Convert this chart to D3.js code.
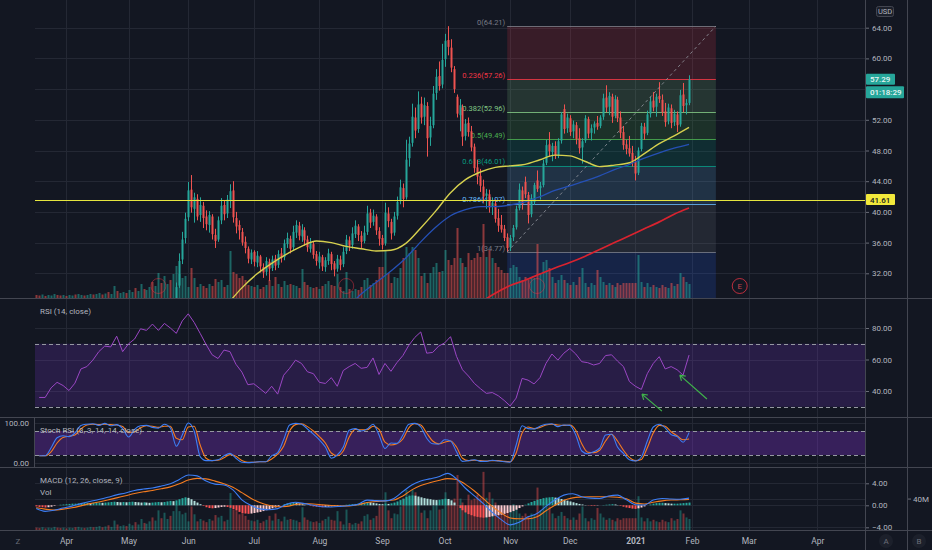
<!DOCTYPE html>
<html>
<head>
<meta charset="utf-8">
<title>Daily chart</title>
<script src="https://cdn.jsdelivr.net/npm/d3@7/dist/d3.min.js"></script>
<style>
  html, body { margin: 0; padding: 0; background: #131722; overflow: hidden; }
  svg { display: block; }
</style>
</head>
<body>
<svg id="chart" width="932" height="550"></svg>
<script>
// ---------- data (one bar per trading day, 18 Mar 2020 .. 29 Jan 2021) ----------
const opens = [
  12.8,12.6,12.2,13.0,12.7,13.6,14.2,14.7,14.3,13.9, 14.5,14.1,14.8,15.3,15.1,16.0,16.4,16.2,17.1,17.6,
  17.4,18.1,18.5,18.3,19.2,18.9,19.8,20.4,20.1,21.0, 21.5,21.2,22.1,22.6,22.3,23.5,24.0,23.6,24.7,25.2,
  24.8,25.7,26.3,26.0,27.2,27.9,27.4,
  27.9,30.4,33.8,36.6,39.3,42.9,40.4,41.7,39.6,40.8, 39.4,38.3,39.4,37.0,36.4,38.9,40.9,39.8,41.4,42.8,
  39.2,38.3,37.4,36.1,35.2,33.8,34.8,33.4,34.2,32.8, 32.2,33.5,32.7,33.9,33.1,34.6,34.1,35.8,36.5,35.4,
  37.3,38.2,36.8,37.6,36.4,35.2,35.8,34.5,33.4,34.1, 32.8,33.6,34.5,33.3,32.6,33.8,33.2,34.9,36.3,35.7,
  37.1,38.1,36.9,36.2,37.4,39.9,38.7,39.4,37.5,36.6, 35.9,39.8,38.7,37.3,39.5,41.4,43.1,41.9,47.0,49.0,
  52.3,50.8,54.1,52.4,53.8,49.7,51.3,55.5,57.7,56.6, 59.9,62.4,61.4,58.6,55.0,52.6,53.6,49.9,51.6,50.5,
  48.5,45.8,44.7,43.3,42.1,42.3,40.7,41.1,39.2,38.3, 37.8,36.7,35.4,36.7,38.0,40.5,42.8,43.9,42.2,39.7,
  41.3,44.1,43.1,43.5,46.4,48.8,47.8,48.6,47.4,49.3, 53.4,50.9,52.2,50.5,51.3,49.6,48.4,49.3,52.1,50.3,
  51.0,51.6,51.2,52.4,54.9,53.7,55.0,52.5,54.6,52.3, 50.4,48.8,48.3,47.7,46.5,45.1,48.2,51.1,50.3,52.8,
  54.5,53.7,55.1,54.6,53.1,51.8,53.5,51.7,52.7,51.4, 55.3,53.9,54.2
];
const highs = [
  13.2,12.9,13.4,13.3,13.8,14.4,15.2,14.9,14.6,14.9, 14.8,14.9,15.7,15.6,16.2,16.8,16.7,17.3,18.0,17.9,
  18.3,18.9,18.8,19.6,19.5,20.0,20.8,20.7,21.2,21.9, 21.8,22.3,23.0,22.9,23.7,24.4,24.3,24.9,25.6,25.5,
  25.9,26.7,26.6,27.4,28.3,28.2,28.6,
  30.8,34.6,37.4,39.9,43.9,44.8,42.5,42.3,41.9,41.3, 40.2,40.1,39.7,37.8,39.4,41.8,41.5,42.2,43.6,44.0,
  40.0,38.9,37.9,36.8,35.5,35.1,35.0,34.9,34.4,33.3, 34.1,33.9,34.3,34.4,35.0,35.3,36.4,37.3,36.9,38.2,
  38.9,38.7,38.4,38.0,36.9,36.6,36.1,34.9,34.8,34.4, 34.1,35.2,34.8,33.6,34.4,34.3,35.4,37.0,36.8,38.0,
  38.9,38.4,37.5,38.2,40.8,40.4,40.3,39.7,38.0,37.0, 41.2,40.6,39.1,40.0,42.0,44.2,43.7,49.4,49.8,54.1,
  53.6,55.7,55.0,54.9,54.3,52.4,56.4,58.6,59.6,61.9, 63.2,64.2,62.5,59.0,55.3,54.7,54.0,52.1,52.3,51.2,
  48.9,46.8,45.6,44.2,43.0,42.9,41.9,41.6,40.4,39.6, 38.3,37.2,37.0,38.3,40.8,43.7,43.3,44.6,42.6,42.3,
  43.8,45.4,43.9,46.8,49.4,50.4,49.0,49.2,49.6,53.0, 54.0,52.8,52.6,51.9,51.7,50.9,49.6,52.6,52.4,51.4,
  51.8,52.5,52.6,55.4,56.5,55.6,55.4,55.2,55.0,53.1, 51.2,49.4,49.9,48.6,47.3,48.4,51.6,51.6,53.2,55.0,
  55.6,55.4,56.9,55.3,54.2,54.1,54.0,53.3,53.1,55.9, 56.8,54.7,57.8
];
const lows = [
  12.1,11.8,12.0,12.3,12.5,13.3,14.0,14.0,13.6,13.7, 13.8,13.9,14.6,14.8,14.9,15.8,15.9,16.0,16.9,17.1,
  17.2,17.9,18.0,18.1,18.6,18.7,19.6,19.8,19.9,20.8, 20.9,21.0,21.9,22.0,22.1,23.2,23.3,23.4,24.5,24.5,
  24.6,25.5,25.7,25.8,26.9,27.1,27.2,
  27.6,30.1,33.2,35.9,38.8,39.9,38.6,38.9,38.7,37.9, 37.6,37.3,36.4,35.3,36.1,38.4,38.9,39.2,40.5,38.6,
  37.2,36.4,35.6,34.6,33.3,33.2,32.9,32.8,32.1,31.4, 31.7,31.0,32.3,32.4,32.7,33.4,33.7,35.3,34.6,35.0,
  36.6,36.3,36.1,35.6,34.8,34.7,33.9,33.0,32.6,32.3, 32.2,33.1,32.4,31.6,32.2,32.4,32.8,34.5,34.9,35.2,
  36.6,36.2,35.3,35.9,37.0,37.9,38.2,37.0,35.6,35.1, 35.6,38.0,36.4,36.9,39.0,41.0,40.6,41.6,45.9,48.5,
  49.6,50.3,51.5,51.3,47.2,48.6,50.9,54.6,55.8,56.1, 58.9,60.4,58.2,55.5,52.3,50.5,48.6,49.3,49.8,47.9,
  45.1,43.6,42.6,41.2,40.4,39.9,39.6,38.6,37.4,37.3, 36.2,34.8,34.9,36.2,37.7,40.2,40.3,41.8,38.5,39.3,
  40.9,42.6,41.6,43.2,46.1,47.2,46.6,46.9,47.0,48.9, 50.2,50.3,49.9,49.6,48.8,47.6,46.3,49.0,49.6,49.3,
  50.2,50.7,50.9,52.0,53.0,52.6,51.6,52.2,51.7,49.6, 48.1,47.5,47.2,45.9,44.1,44.8,47.9,49.4,50.0,52.3,
  53.1,52.4,54.2,52.5,51.1,51.4,50.9,51.2,50.4,51.1, 53.0,52.7,53.9
];
const closes = [
  12.5,12.1,13.0,12.6,13.5,14.1,14.8,14.2,13.9,14.6, 14.0,14.7,15.4,15.0,15.9,16.5,16.1,17.0,17.7,17.3,
  18.0,18.6,18.2,19.3,18.8,19.7,20.5,20.0,20.9,21.6, 21.1,22.0,22.7,22.2,23.4,24.1,23.5,24.6,25.3,24.7,
  25.6,26.4,25.9,27.1,28.0,27.3,28.2,
  30.2,33.6,36.4,39.1,42.8,40.6,41.9,39.4,40.9,39.2, 38.4,39.6,37.1,36.2,38.9,40.8,39.7,41.6,42.7,39.3,
  38.1,37.6,36.0,35.3,33.9,34.7,33.5,34.3,32.9,32.1, 33.6,32.6,33.8,33.0,34.5,34.0,35.9,36.6,35.2,37.4,
  38.3,36.9,37.7,36.3,35.4,35.9,34.4,33.6,34.2,32.9, 33.7,34.6,33.2,32.5,33.9,33.1,34.8,36.4,35.6,37.2,
  38.2,37.0,36.1,37.3,39.8,38.6,39.5,37.6,36.5,35.7, 39.9,38.8,37.2,39.4,41.3,43.2,41.7,46.8,48.9,52.4,
  50.6,54.0,52.3,53.9,49.6,51.2,55.4,57.6,56.4,59.8, 62.3,61.5,58.8,56.0,52.8,53.9,49.8,51.5,50.4,48.4,
  45.7,44.6,43.4,42.0,42.4,40.6,41.2,39.1,38.2,37.7, 36.6,35.3,36.6,37.9,40.4,42.9,41.0,42.3,39.6,41.8,
  43.5,43.0,43.4,46.3,48.7,47.9,48.6,47.3,49.2,52.7, 50.8,52.3,50.4,51.4,49.5,48.3,49.2,52.2,50.2,50.9,
  51.5,51.1,52.3,54.8,53.6,55.1,52.4,54.7,52.2,50.3, 48.7,48.2,47.6,46.6,45.0,48.0,51.2,50.2,52.7,54.4,
  53.6,55.0,54.7,53.0,51.7,53.6,51.6,52.8,51.3,55.2, 53.8,54.2,57.29
];
// volume, millions
const volumes = [
  3,2.5,3.5,2,3,2.5,4,3,2.5,3, 2,3,2.5,3.5,4,3,2.5,3,4,3.5, 4,5,3.5,4.5,6,4,12,7,5,6,
  5,8,6,10,7,14,9,8,11,16, 12,25,15,22,14,18,24,32,24,20, 22,11,30,20,11,14,12,10,14,12,
  19,16,18,11,13,47,26,24,20,22, 18,13,12,11,13,9,11,13,18,12, 21,14,11,17,13,14,13,12,10,29,
  16,13,11,10,11,9,12,14,17,13, 12,24,11,7,26,9,7,9,8,11, 18,20,13,15,18,31,31,48,25,15,
  21,20,30,40,51,45,51,48,40,22, 25,15,25,31,35,26,27,48,38,33, 40,70,40,35,31,45,38,40,45,41,
  74,41,48,40,35,31,28,25,25,30, 33,31,21,18,21,18,21,20,54,25, 36,38,30,21,15,18,23,18,15,13,
  16,13,21,30,15,11,15,13,28,21, 16,13,15,13,11,15,13,15,15,15, 15,15,43,16,11,15,11,13,11,10,
  13,11,10,15,12,14,25,21,16,14
];

// moving averages, one reading every 5 bars
const smaStep = 5;
const sma50Start = 64;
const sma50 = [27.9,30.1,31.9,33.3,34.5,35.5,36.2,36.0,35.5,35.2, 34.9,35.0,35.9,37.9,40.1,42.5,44.2,45.2,45.8,46.0,
  46.2,46.8,47.4,47.3,46.6,45.9,46.1,46.4,47.6,48.9, 49.9,51.0];
const sma100Start = 104;
const sma100 = [27.3,29.3,30.8,32.3,34.0,36.1,38.0,39.5,40.3,40.7, 40.7,40.9,41.3,42.0,42.8,43.4,44.0,44.7,45.5,46.2,
  47.0,47.7,48.3,48.8];
const sma200Start = 149;
const sma200 = [28.2,29.4,30.4,31.1,31.9,32.7,33.4,34.2,35.1,36.0, 36.9,37.8,38.7,39.7,40.5];

// RSI (14), one reading every 2 bars from bar 1
const oscStart = 1, oscStep = 2;
const rsiValues = [
  35.9,35.9,42.0,45.5,43.5,40.3,45.0,54.0,55.5,59.6, 65.0,68.5,68.0,74.8,65.0,70.0,73.0,79.5,78.5,82.5,
  78.5,82.9,80.0,76.6,84.5,89.0,83.5,76.6,69.5,63.0, 60.6,66.0,65.0,57.0,52.0,44.0,44.6,41.6,38.5,43.0,
  38.0,50.0,54.4,59.6,57.5,52.2,51.0,45.5,44.8,48.5, 43.0,53.0,55.5,57.5,54.4,55.0,61.0,50.5,57.5,52.5,
  58.0,62.5,69.0,74.0,77.5,64.0,64.5,68.5,70.5,74.5, 62.0,53.5,49.5,44.8,41.5,38.5,39.0,37.0,34.0,30.5,
  35.5,48.0,46.9,44.5,48.5,57.5,63.5,59.6,64.0,67.0, 63.5,58.6,58.0,56.5,57.5,62.5,63.0,59.0,55.5,46.0,
  43.0,41.0,51.0,57.5,61.8,54.0,55.5,53.5,50.1,62.8
];
// Stoch RSI (3, 3, 14, 14): %K and %D, same sampling
const stochK = [
  18,18,38,63,68,66,75,94,97,98, 94,99,93,96,86,65,84,93,94,89, 87,97,88,42,70,100,80,16,6,6,
  8,18,24,12,2,1,2,3,3,18, 26,58,95,99,97,85,72,58,40,12, 20,40,82,86,80,85,97,70,36,50,
  49,70,97,99,90,62,48,47,58,55, 28,4,6,8,4,4,7,5,3,2, 45,93,86,85,92,97,98,91,95,94,
  70,30,23,28,37,70,72,40,24,8, 5,15,55,90,97,88,71,66,52,76
];
const stochD = [
  18,18,28,50,64,67,70,85,95,97, 96,97,96,95,91,76,78,88,93,92, 89,92,92,62,58,90,92,45,12,6,
  7,13,21,17,6,2,2,3,3,10, 22,42,80,96,98,91,80,66,50,25, 18,30,65,84,83,83,92,84,52,45,
  48,60,88,98,95,75,55,48,52,55, 40,12,6,7,6,5,6,6,4,3, 25,75,90,86,89,95,97,95,94,95,
  82,48,27,26,32,55,72,55,32,14, 6,9,38,75,94,92,78,68,58,60
];

// MACD (12, 26, 9): lines read every 3 bars, histogram every bar
const macdStep = 3;
const macdLine = [
  -0.6,-1.1,-0.9,-0.5,-0.15,0.3,0.7,1.05,1.45,1.9, 2.25,2.7,2.95,3.15,3.5,3.9,4.7,5.5,5.35,4.4,
  3.85,3.7,2.8,1.0,0.0,-0.65,-0.8,-0.6,0.2,0.55, 0.3,0.0,-0.25,-0.3,-0.2,-0.05,0.2,0.95,0.85,0.8,
  1.25,2.5,3.7,4.4,4.8,5.2,5.8,4.8,3.1,1.7, 0.3,-1.3,-2.6,-3.55,-3.1,-2.1,-1.5,-0.2,0.95,1.85,
  2.1,1.55,1.3,1.25,1.7,1.85,1.0,0.1,0.05,0.95, 1.25,1.15,1.1,1.3
];
const signalLine = [
  -0.45,-0.7,-0.85,-0.7,-0.45,-0.1,0.3,0.6,0.95,1.35, 1.75,2.15,2.45,2.7,3.0,3.35,3.9,4.6,4.9,4.8,
  4.4,3.9,3.3,2.3,1.3,0.5,0.0,-0.25,-0.2,0.15, 0.3,0.25,0.1,-0.05,-0.12,-0.1,0.1,0.5,0.7,0.8,
  0.95,1.7,2.8,3.6,4.1,4.5,4.85,4.7,3.8,2.6, 1.2,-0.2,-1.4,-2.3,-2.45,-2.45,-2.1,-1.0,0.0,0.9,
  1.35,1.5,1.55,1.55,1.55,1.45,1.2,0.4,0.25,0.55, 0.8,0.95,1.0,1.05
];
const macdHist = [
  -0.2,-0.3,-0.35,-0.4,-0.35,-0.25,-0.1,0.0,0.1,0.15, 0.2,0.25,0.3,0.3,0.35,0.4,0.4,0.45,0.4,0.45,
  0.5,0.5,0.45,0.5,0.55,0.6,0.65,0.6,0.55,0.6, 0.55,0.6,0.65,0.6,0.55,0.5,0.55,0.5,0.45,0.5,
  0.55,0.6,0.55,0.6,0.7,0.8,0.75,0.9,1.1,1.3, 1.45,1.35,1.1,0.8,0.5,0.2,-0.1,-0.35,-0.5,-0.55,
  -0.5,-0.4,-0.3,-0.25,-0.3,-0.45,-0.7,-0.95,-1.2,-1.4, -1.5,-1.55,-1.5,-1.4,-1.3,-1.2,-1.05,-0.9,-0.75,-0.55,
  -0.4,-0.2,0.0,0.2,0.35,0.45,0.5,0.45,0.35,0.2, 0.1,0.0,-0.1,-0.2,-0.25,-0.3,-0.35,-0.3,-0.25,-0.2,
  -0.15,-0.1,-0.05,0.05,0.1,0.15,0.2,0.25,0.3,0.4, 0.5,0.6,0.55,0.45,0.35,0.25,0.2,0.3,0.25,0.35,
  0.5,0.7,0.95,1.2,1.5,1.7,1.8,1.75,1.6,1.45, 1.3,1.2,1.1,1.0,0.95,1.0,1.1,1.2,1.15,0.9,
  0.5,0.0,-0.5,-0.9,-1.3,-1.6,-1.8,-2.0,-2.1,-2.2, -2.25,-2.2,-2.1,-2.0,-1.9,-1.8,-1.7,-1.55,-1.4,-1.25,
  -1.05,-0.8,-0.5,-0.2,0.1,0.35,0.6,0.8,1.0,1.15, 1.3,1.4,1.45,1.5,1.4,1.3,1.15,1.0,0.85,0.7,
  0.55,0.4,0.25,0.15,0.05,-0.05,-0.1,-0.1,-0.05,0.0, 0.05,0.1,0.15,0.2,0.15,0.05,-0.1,-0.25,-0.4,-0.5,
  -0.6,-0.65,-0.55,-0.4,-0.2,0.0,0.15,0.3,0.4,0.45, 0.45,0.4,0.35,0.3,0.3,0.3,0.35,0.4,0.45,0.5
];

// time axis: bar index of each month's first trading day
const monthStarts = [10, 31, 51, 73, 95, 116, 137, 159, 179, 201, 220, 239, 262];
const monthLabels = ['Apr', 'May', 'Jun', 'Jul', 'Aug', 'Sep', 'Oct', 'Nov', 'Dec', '2021', 'Feb', 'Mar', 'Apr'];
const priceTicks = [32, 36, 40, 44, 48, 52, 56, 60, 64];
// 56.00 sits under the countdown tag, so it is not labelled
const priceLabels = [32, 36, 40, 44, 48, 52, 60, 64];
const rsiTicks = [40, 60, 80];
const stochTicks = [0, 100];
const macdTicks = [-4, 0, 4];

// fibonacci retracement drawing
const fibStart = 158, fibEnd = 228;
const fibLevels = [0, 0.236, 0.382, 0.5, 0.618, 0.786, 1, 1.618];
const fibPrices = [64.21, 57.26, 52.96, 49.49, 46.01, 41.07, 34.77, 16.58];
const fibColors = ['#787b86', '#f23645', '#81c784', '#4caf50', '#089981', '#64b5f6', '#787b86', '#2962ff'];

const levelPrice = 41.61;
const lastPrice = 57.29;
const countdown = '01:18:29';
const earnings = [41, 104, 168, 236];
// green arrows on the RSI pane: [barFrom, rsiFrom, barTo, rsiTo]
const rsiArrows = [[209.9, 27.2, 203.2, 38.0], [225, 34.9, 215.9, 50.1]];

// ---------- layout ----------
const W = 932, H = 550;
const plotL = 35, plotR = 865, axisR = 907;
const paneMain = [0, 298], paneRsi = [298, 417], paneStoch = [417, 467], paneMacd = [467, 530];
const font = 'Roboto, "Noto Sans", sans-serif';
const bg = '#131722', gridCol = '#242834', sepCol = '#434651', txt = '#b2b5be';
const up = '#26a69a', down = '#ef5350';

const svg = d3.select('#chart').attr('font-family', font);
svg.append('rect').attr('width', W).attr('height', H).attr('fill', bg);
const defs = svg.append('defs');
function clipTo(id, pane) {
  defs.append('clipPath').attr('id', id).append('rect')
    .attr('x', plotL).attr('y', pane[0]).attr('width', plotR - plotL).attr('height', pane[1] - pane[0]);
  return `url(#${id})`;
}

const x = d3.scaleLinear().domain([0, 219]).range([36.2, 36.2 + 219 * 2.981]);
const yP = d3.scaleLinear().domain([32, 64]).range([273.3, 27.7]);
const yVol = d3.scaleLinear().domain([0, 74]).range([298, 224]);
const yRsi = d3.scaleLinear().domain([40, 80]).range([391, 328]);
const yStoch = d3.scaleLinear().domain([0, 100]).range([463, 423]);
const yMacd = d3.scaleLinear().domain([-4, 4]).range([527.3, 483.3]);
const yVol2 = d3.scaleLinear().domain([0, 42]).range([530, 497]);

const bars = d3.range(closes.length);
const isUp = i => closes[i] >= opens[i];
const px = i => Math.round(x(i));
const crisp = v => Math.round(v) + 0.5;

// ---------- grid ----------
const gridG = svg.append('g').attr('stroke', gridCol).attr('shape-rendering', 'crispEdges');
gridG.selectAll('line.v').data(monthStarts).join('line')
  .attr('x1', d => crisp(x(d))).attr('x2', d => crisp(x(d)))
  .attr('y1', 0).attr('y2', paneMacd[1]);
function hGrid(scale, vals) {
  gridG.append('g').selectAll('line').data(vals).join('line')
    .attr('x1', plotL).attr('x2', plotR)
    .attr('y1', d => crisp(scale(d))).attr('y2', d => crisp(scale(d)));
}
hGrid(yP, priceTicks);
hGrid(yRsi, rsiTicks);
hGrid(yStoch, stochTicks);
hGrid(yMacd, macdTicks);
hGrid(yVol2, [40]);

// ---------- main pane ----------
const main = svg.append('g').attr('clip-path', clipTo('clipMain', paneMain));
const fx0 = x(fibStart), fx1 = x(fibEnd);

main.append('g').selectAll('rect').data(d3.range(1, fibPrices.length)).join('rect')
  .attr('x', fx0).attr('width', fx1 - fx0)
  .attr('y', k => yP(fibPrices[k - 1]))
  .attr('height', k => yP(fibPrices[k]) - yP(fibPrices[k - 1]))
  .attr('fill', k => fibColors[k]).attr('fill-opacity', 0.17);

main.append('g').selectAll('line').data(fibPrices).join('line')
  .attr('x1', fx0).attr('x2', fx1)
  .attr('y1', d => crisp(yP(d))).attr('y2', d => crisp(yP(d)))
  .attr('stroke', (d, k) => fibColors[k]).attr('stroke-opacity', 0.85);

main.append('g').selectAll('text').data(fibPrices).join('text')
  .attr('x', fx0 - 2).attr('y', d => yP(d) - 1.5)
  .attr('text-anchor', 'end').attr('font-size', 7.5)
  .attr('fill', (d, k) => fibColors[k])
  .text((d, k) => `${fibLevels[k]}(${d.toFixed(2)})`);

main.append('g').selectAll('rect').data(bars).join('rect')
  .attr('x', i => px(i) - 0.5).attr('width', 2)
  .attr('y', i => yVol(volumes[i])).attr('height', i => paneMain[1] - yVol(volumes[i]))
  .attr('fill', i => isUp(i) ? up : down).attr('fill-opacity', 0.55);

const earnG = main.append('g');
earnG.selectAll('circle').data(earnings).join('circle')
  .attr('cx', d => x(d)).attr('cy', 286).attr('r', 7.5)
  .attr('fill', 'none').attr('stroke', '#f23645')
  .attr('stroke-opacity', d => d > 219 ? 0.75 : 0.45);
earnG.selectAll('text').data(earnings.filter(d => d > 219)).join('text')
  .attr('x', d => x(d)).attr('y', 289).attr('text-anchor', 'middle')
  .attr('font-size', 8).attr('fill', '#c0454f').text('E');

const candles = main.append('g');
candles.selectAll('line').data(bars).join('line')
  .attr('x1', i => px(i) + 0.5).attr('x2', i => px(i) + 0.5)
  .attr('y1', i => yP(highs[i])).attr('y2', i => yP(lows[i]))
  .attr('stroke', i => isUp(i) ? up : down);
candles.selectAll('rect').data(bars).join('rect')
  .attr('x', i => px(i) - 0.5).attr('width', 2)
  .attr('y', i => yP(Math.max(opens[i], closes[i])))
  .attr('height', i => Math.max(1, Math.abs(yP(opens[i]) - yP(closes[i]))))
  .attr('fill', i => isUp(i) ? up : down);

const maLine = start => d3.line()
  .x((d, k) => x(start + k * smaStep)).y(d => yP(d)).curve(d3.curveMonotoneX);
main.append('path').datum(sma200).attr('d', maLine(sma200Start))
  .attr('fill', 'none').attr('stroke', '#d9232f').attr('stroke-width', 1.7);
main.append('path').datum(sma100).attr('d', maLine(sma100Start))
  .attr('fill', 'none').attr('stroke', '#2550b5').attr('stroke-width', 1.3);
main.append('path').datum(sma50).attr('d', maLine(sma50Start))
  .attr('fill', 'none').attr('stroke', '#d6d04e').attr('stroke-width', 1.4);

main.append('line')
  .attr('x1', fx0).attr('y1', yP(fibPrices[6])).attr('x2', fx1).attr('y2', yP(fibPrices[0]))
  .attr('stroke', '#9598a1').attr('stroke-dasharray', '3,3').attr('stroke-opacity', 0.8);

main.append('line')
  .attr('x1', plotL).attr('x2', plotR)
  .attr('y1', crisp(yP(levelPrice))).attr('y2', crisp(yP(levelPrice)))
  .attr('stroke', '#e6e63f').attr('stroke-width', 1.1);

// ---------- RSI pane ----------
const rsiG = svg.append('g').attr('clip-path', clipTo('clipRsi', paneRsi));
rsiG.append('rect').attr('x', plotL).attr('width', plotR - plotL)
  .attr('y', yRsi(70)).attr('height', yRsi(30) - yRsi(70))
  .attr('fill', '#7838c8').attr('fill-opacity', 0.22);
rsiG.selectAll('line.band').data([70, 30]).join('line')
  .attr('x1', plotL).attr('x2', plotR)
  .attr('y1', d => crisp(yRsi(d))).attr('y2', d => crisp(yRsi(d)))
  .attr('stroke', '#9598a1').attr('stroke-dasharray', '4,3');
const oscX = (d, k) => x(oscStart + k * oscStep);
rsiG.append('path').datum(rsiValues)
  .attr('d', d3.line().x(oscX).y(d => yRsi(d)))
  .attr('fill', 'none').attr('stroke', '#9a46c4').attr('stroke-width', 1);
rsiArrows.forEach(([b0, r0, b1, r1]) => {
  const x0 = x(b0), y0 = yRsi(r0), x1 = x(b1), y1 = yRsi(r1);
  const a = Math.atan2(y1 - y0, x1 - x0), len = 6;
  const head = [a + Math.PI * 0.82, a - Math.PI * 0.82]
    .map(t => `M${x1},${y1}L${x1 + len * Math.cos(t)},${y1 + len * Math.sin(t)}`).join('');
  rsiG.append('path').attr('d', `M${x0},${y0}L${x1},${y1}` + head)
    .attr('fill', 'none').attr('stroke', '#3fb24a').attr('stroke-width', 1.2);
});

// ---------- Stoch RSI pane ----------
const stG = svg.append('g').attr('clip-path', clipTo('clipStoch', paneStoch));
stG.append('rect').attr('x', plotL).attr('width', plotR - plotL)
  .attr('y', yStoch(80)).attr('height', yStoch(20) - yStoch(80))
  .attr('fill', '#8a35e0').attr('fill-opacity', 0.3);
stG.selectAll('line.band').data([80, 20]).join('line')
  .attr('x1', plotL).attr('x2', plotR)
  .attr('y1', d => crisp(yStoch(d))).attr('y2', d => crisp(yStoch(d)))
  .attr('stroke', '#9598a1').attr('stroke-dasharray', '4,3');
const stLine = d3.line().x(oscX).y(d => yStoch(d)).curve(d3.curveMonotoneX);
stG.append('path').datum(stochD).attr('d', stLine)
  .attr('fill', 'none').attr('stroke', '#f57c20').attr('stroke-width', 1.1);
stG.append('path').datum(stochK).attr('d', stLine)
  .attr('fill', 'none').attr('stroke', '#3d7ef5').attr('stroke-width', 1.1);

// ---------- MACD pane with volume ----------
const mG = svg.append('g').attr('clip-path', clipTo('clipMacd', paneMacd));
mG.append('g').selectAll('rect').data(bars).join('rect')
  .attr('x', i => px(i) - 0.5).attr('width', 2)
  .attr('y', i => yVol2(volumes[i])).attr('height', i => paneMacd[1] - yVol2(volumes[i]))
  .attr('fill', i => isUp(i) ? up : down).attr('fill-opacity', 0.45);
const histColor = i => {
  const v = macdHist[i], prev = i > 0 ? macdHist[i - 1] : v;
  if (v >= 0) return v >= prev ? '#26a69a' : '#b2dfdb';
  return v <= prev ? '#ff5252' : '#ffcdd2';
};
mG.append('g').selectAll('rect').data(bars).join('rect')
  .attr('x', i => px(i) - 0.5).attr('width', 2)
  .attr('y', i => Math.min(yMacd(0), yMacd(macdHist[i])))
  .attr('height', i => Math.abs(yMacd(macdHist[i]) - yMacd(0)))
  .attr('fill', histColor);
const mLine = d3.line().x((d, k) => x(k * macdStep)).y(d => yMacd(d)).curve(d3.curveMonotoneX);
mG.append('path').datum(signalLine).attr('d', mLine)
  .attr('fill', 'none').attr('stroke', '#f57c20').attr('stroke-width', 1.1);
mG.append('path').datum(macdLine).attr('d', mLine)
  .attr('fill', 'none').attr('stroke', '#3d7ef5').attr('stroke-width', 1.1);

// ---------- pane titles ----------
const titles = [['RSI (14, close)', 314], ['Stoch RSI (3, 3, 14, 14, close)', 433],
  ['MACD (12, 26, close, 9)', 483], ['Vol', 495]];
svg.append('g').selectAll('text').data(titles).join('text')
  .attr('x', 40).attr('y', d => d[1]).attr('font-size', 8).attr('fill', txt).text(d => d[0]);

// ---------- separators ----------
const sepG = svg.append('g').attr('stroke', sepCol).attr('shape-rendering', 'crispEdges');
[paneMain[1], paneRsi[1], paneStoch[1], paneMacd[1]].forEach(v =>
  sepG.append('line').attr('x1', 0).attr('x2', W).attr('y1', v + 0.5).attr('y2', v + 0.5));
[plotR, axisR].forEach(v =>
  sepG.append('line').attr('x1', v + 0.5).attr('x2', v + 0.5).attr('y1', 0).attr('y2', H));
sepG.append('line').attr('x1', plotL - 0.5).attr('x2', plotL - 0.5)
  .attr('y1', paneRsi[1]).attr('y2', paneStoch[1]);

// ---------- axes ----------
function styleAxis(g) {
  g.attr('font-size', 8).attr('font-family', font);
  g.select('.domain').remove();
  g.selectAll('line').attr('stroke', '#6a6d78');
  g.selectAll('text').attr('fill', txt);
}
const f2 = d3.format('.2f');
svg.append('g').attr('transform', `translate(${plotR + 1},0)`)
  .call(d3.axisRight(yP).tickValues(priceLabels).tickFormat(f2).tickSize(3).tickPadding(3)).call(styleAxis);
svg.append('g').attr('transform', `translate(${plotR + 1},0)`)
  .call(d3.axisRight(yRsi).tickValues(rsiTicks).tickFormat(f2).tickSize(3).tickPadding(3)).call(styleAxis);
svg.append('g').attr('transform', `translate(${plotR + 1},0)`)
  .call(d3.axisRight(yMacd).tickValues(macdTicks).tickFormat(f2).tickSize(3).tickPadding(3)).call(styleAxis);
svg.append('g').attr('transform', `translate(${axisR + 1},0)`)
  .call(d3.axisRight(yVol2).tickValues([40]).tickFormat(d => d + 'M').tickSize(3).tickPadding(2)).call(styleAxis);
svg.append('g').attr('transform', `translate(${plotL - 1},0)`)
  .call(d3.axisLeft(yStoch).tickValues(stochTicks).tickFormat(f2).tickSize(0).tickPadding(5)).call(styleAxis);
const timeAxis = svg.append('g').attr('transform', `translate(0,${paneMacd[1]})`)
  .call(d3.axisBottom(x).tickValues(monthStarts).tickFormat((d, i) => monthLabels[i]).tickSize(0).tickPadding(8))
  .call(styleAxis);
timeAxis.attr('font-size', 8.5);
timeAxis.selectAll('text').filter(d => monthLabels[monthStarts.indexOf(d)] === '2021').attr('font-weight', 700);

// bottom buttons
svg.append('text').attr('x', 18).attr('y', 544).attr('text-anchor', 'middle')
  .attr('font-size', 8).attr('fill', '#6a6d78').text('Z');
[['A', 886], ['B', 919]].forEach(([t, cx]) => {
  svg.append('circle').attr('cx', cx).attr('cy', 541).attr('r', 7).attr('fill', '#1c202b');
  svg.append('text').attr('x', cx).attr('y', 544).attr('text-anchor', 'middle')
    .attr('font-size', 8).attr('fill', '#6a6d78').text(t);
});

// ---------- price scale labels ----------
svg.append('rect').attr('x', 876.5).attr('y', 6.5).attr('width', 17).attr('height', 10).attr('rx', 2)
  .attr('fill', '#1c202b').attr('stroke', '#434651');
svg.append('text').attr('x', 885).attr('y', 14.2).attr('text-anchor', 'middle')
  .attr('font-size', 7.5).attr('fill', txt).text('USD');

function priceTag(yc, w, h, fill, color, label) {
  svg.append('rect').attr('x', plotR + 1).attr('y', yc - h / 2).attr('width', w).attr('height', h)
    .attr('fill', fill).attr('rx', 1);
  svg.append('text').attr('x', plotR + 5).attr('y', yc + 3).attr('font-size', 8)
    .attr('fill', color).attr('font-weight', 500).text(label);
}
priceTag(yP(levelPrice), 29, 11, '#f2e93b', '#131722', f2(levelPrice));
priceTag(yP(lastPrice), 29, 11, '#26a69a', '#e8f5f3', f2(lastPrice));
priceTag(yP(lastPrice) + 13, 38, 12, '#26a69a', '#e8f5f3', countdown);
</script>
</body>
</html>
